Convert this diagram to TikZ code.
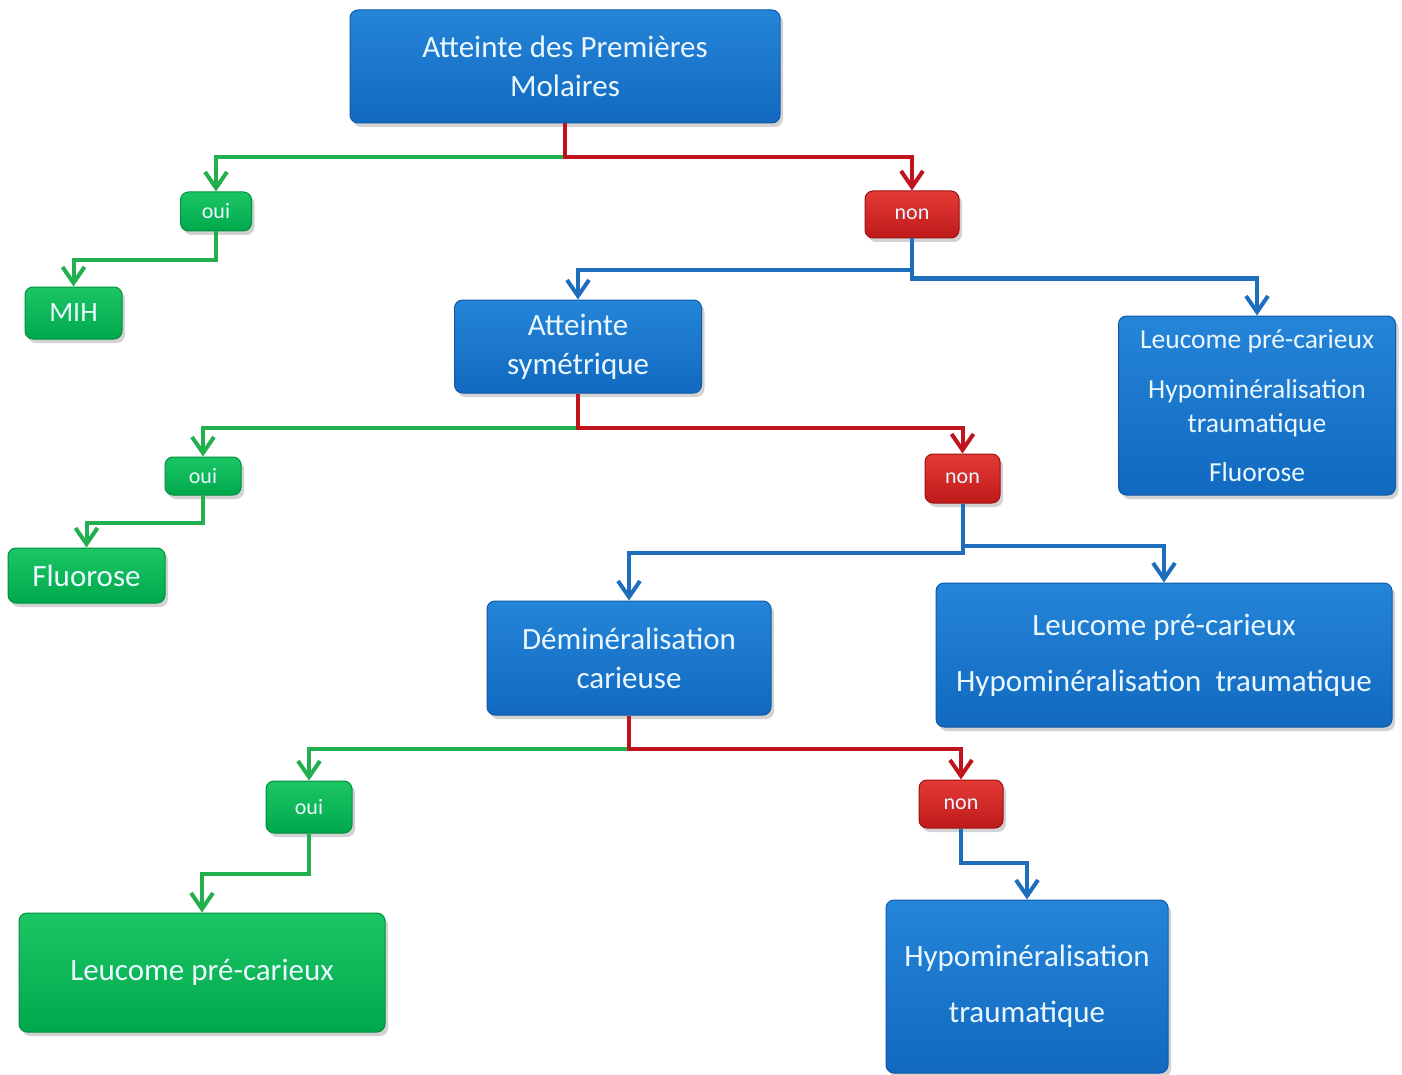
\documentclass[tikz,border=0pt]{standalone}
\usepackage{fontspec}
\setmainfont{Carlito}
\usetikzlibrary{arrows.meta,shadows}
\definecolor{bT}{HTML}{2585D8}
\definecolor{bB}{HTML}{1169C0}
\definecolor{bD}{HTML}{0F5AA5}
\definecolor{gT}{HTML}{1CC664}
\definecolor{gB}{HTML}{00A84C}
\definecolor{gD}{HTML}{00903F}
\definecolor{rT}{HTML}{E43A36}
\definecolor{rB}{HTML}{BE1A1A}
\definecolor{rD}{HTML}{9E1010}
\definecolor{lineG}{HTML}{22B04E}
\definecolor{lineR}{HTML}{C0141C}
\definecolor{lineB}{HTML}{1E6EBE}
\definecolor{txt}{HTML}{EAF7FF}
\tikzset{
  box/.style={rectangle, rounded corners=8pt, inner sep=0pt, align=center,
    text=txt, line width=1pt,
    drop shadow={shadow xshift=3pt, shadow yshift=-4pt, opacity=0.35}},
  bluebox/.style={box, top color=bT, bottom color=bB, draw=bD},
  greenbox/.style={box, top color=gT, bottom color=gB, draw=gD},
  redbox/.style={box, top color=rT, bottom color=rB, draw=rD},
  big/.style={font=\fontsize{31}{39}\selectfont},
  mid/.style={font=\fontsize{27.5}{34}\selectfont},
  small/.style={font=\fontsize{22}{26}\selectfont},
  conn/.style={line width=4pt, -{Straight Barb[length=16pt,width=22pt,line width=4pt]}},
  gline/.style={conn, draw=lineG},
  rline/.style={conn, draw=lineR},
  bline/.style={conn, draw=lineB},
}
\begin{document}
\begin{tikzpicture}[x=1pt,y=-1pt]
\useasboundingbox (0,0) rectangle (1402,1075);
\fill[white] (0,0) rectangle (1402,1075);

% nodes
\node[bluebox, big, minimum width=430, minimum height=113] (top) at (565,66.5) {Atteinte des Premières\\Molaires};
\node[greenbox, small, minimum width=71, minimum height=39] (oui1) at (216,211.5) {oui};
\node[redbox, small, minimum width=94, minimum height=47] (non1) at (912,214.5) {non};
\node[greenbox, font=\fontsize{28}{34}\selectfont, minimum width=97, minimum height=52] (mih) at (73.5,313) {MIH};
\node[bluebox, big, minimum width=247, minimum height=93] (sym) at (578,346.5) {Atteinte\\symétrique};
\node[bluebox, mid, minimum width=277, minimum height=179] (r1) at (1257,405.5) {Leucome pré-carieux\\[16pt]Hypominéralisation\\traumatique\\[15pt]Fluorose};
\node[greenbox, small, minimum width=76, minimum height=38] (oui2) at (203,476) {oui};
\node[redbox, small, minimum width=75, minimum height=49] (non2) at (962.5,478.5) {non};
\node[greenbox, big, minimum width=157, minimum height=55] (fluo) at (86.5,575.5) {Fluorose};
\node[bluebox, big, minimum width=284, minimum height=114] (dem) at (629,658) {Déminéralisation\\carieuse};
\node[bluebox, big, minimum width=456, minimum height=144] (r2) at (1164,655) {Leucome pré-carieux\\[17pt]Hypominéralisation\ \ traumatique};
\node[greenbox, small, minimum width=86, minimum height=52] (oui3) at (309,807) {oui};
\node[redbox, small, minimum width=84, minimum height=48] (non3) at (961,804) {non};
\node[greenbox, big, minimum width=366, minimum height=119] (leu) at (202,972.5) {Leucome pré-carieux};
\node[bluebox, big, minimum width=282, minimum height=173] (hypo) at (1027,986.5) {Hypominéralisation\\[17pt]traumatique};

% connectors level 1
\draw[gline] (top.south) ++(0,34) -| (oui1.north);
\draw[rline] (top.south) -- ++(0,34) -| (non1.north);
\draw[gline] (oui1.south) -- ++(0,29) -| (mih.north);
\draw[bline] (non1.south) -- ++(0,32) -| (sym.north);
\draw[bline] (non1.south) -- ++(0,40) -| (r1.north);

% level 2
\draw[gline] (sym.south) ++(0,34) -| (oui2.north);
\draw[rline] (sym.south) -- ++(0,34) -| (non2.north);
\draw[gline] (oui2.south) -- ++(0,27) -| (fluo.north);
\draw[bline] (non2.south) -- ++(0,49) -| (dem.north);
\draw[bline] (non2.south) -- ++(0,42) -| (r2.north);

% level 3
\draw[gline] (dem.south) ++(0,33) -| (oui3.north);
\draw[rline] (dem.south) -- ++(0,33) -| (non3.north);
\draw[gline] (oui3.south) -- ++(0,40) -| (leu.north);
\draw[bline] (non3.south) -- ++(0,34) -| (hypo.north);
\end{tikzpicture}
\end{document}
